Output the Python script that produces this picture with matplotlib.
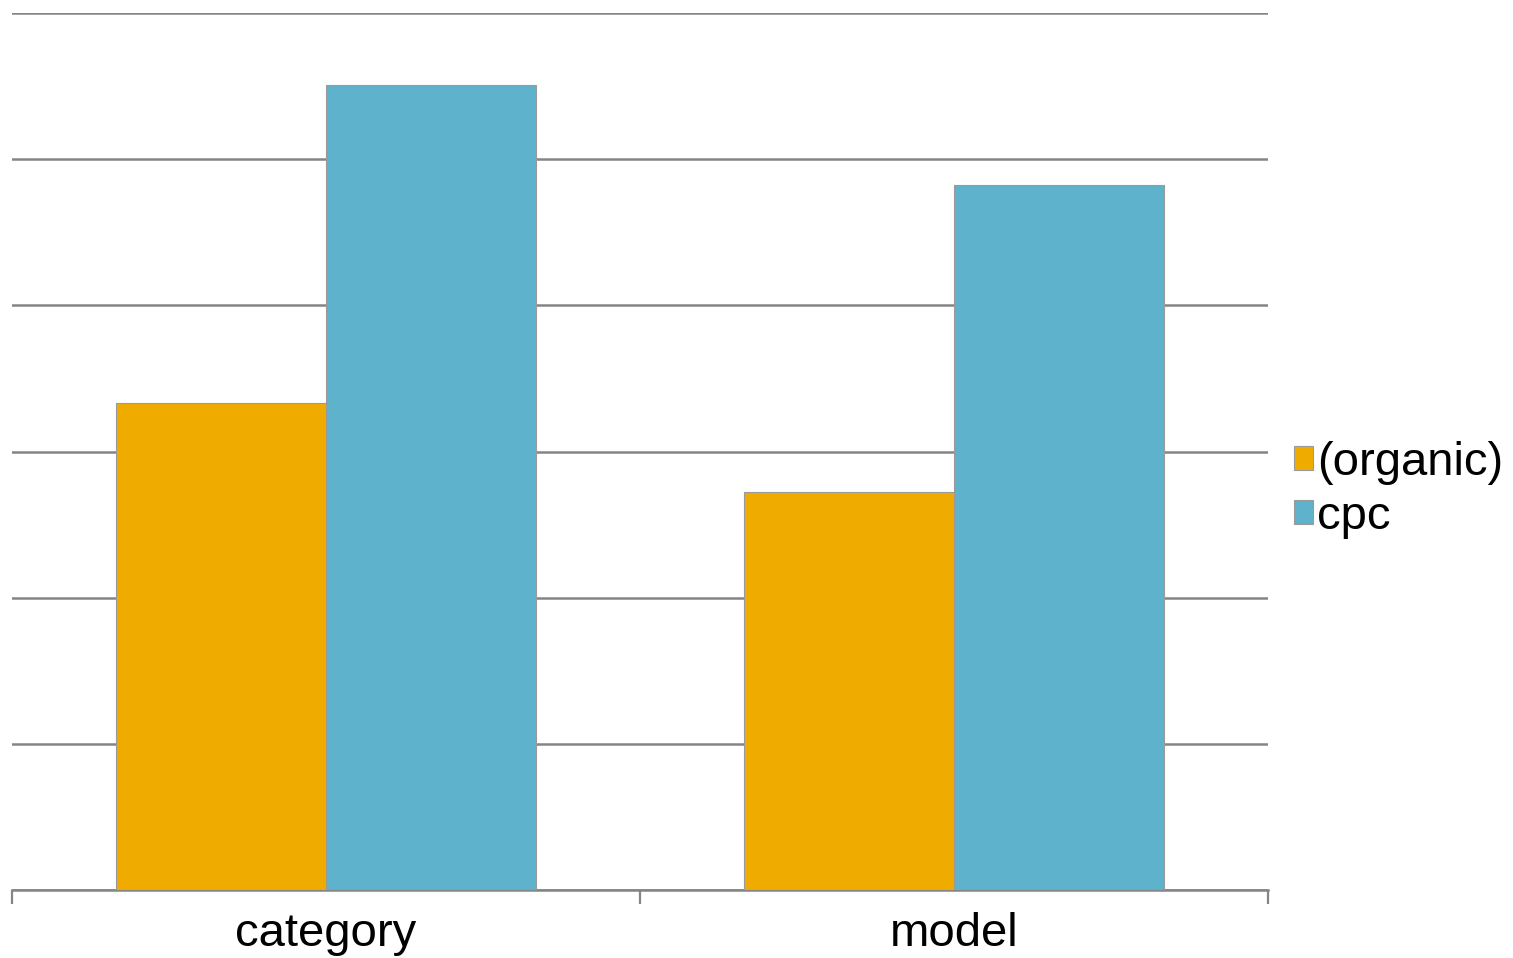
import matplotlib.pyplot as plt
import numpy as np

# Données
categories = ["category", "model"]
organic = [3.33, 2.72]
cpc = [5.51, 4.82]
series_names = ["(organic)", "cpc"]

plt.rcParams['font.family'] = ['Liberation Sans', 'DejaVu Sans']

fig = plt.figure(figsize=(15.13, 9.58), dpi=100)
ax = fig.add_axes([12/1513, 68/958, (1268-12)/1513, (890-13)/958])

x = np.arange(len(categories))
w = 0.334
ax.bar(x - w/2, organic, w, color='#F0AB00', edgecolor='#9a9a9a', linewidth=0.8,
       label=series_names[0], zorder=3)
ax.bar(x + w/2, cpc, w, color='#5FB2CB', edgecolor='#9a9a9a', linewidth=0.8,
       label=series_names[1], zorder=3)

ax.set_xlim(-0.5, 1.5)
ax.set_ylim(0, 6)
ax.set_yticks(np.arange(0, 7))
ax.yaxis.grid(True, color='#858585', linewidth=1.8, zorder=0)
ax.tick_params(axis='y', left=False, labelleft=False)

# Axe horizontal avec graduations aux limites de catégories
ax.set_xticks(x)
ax.set_xticklabels(categories, fontsize=34)
ax.set_xticks([-0.5, 0.5, 1.5], minor=True)
ax.tick_params(axis='x', which='major', length=0, pad=16)
ax.tick_params(axis='x', which='minor', length=10, width=1.6, color='#858585', direction='out')

for s in ['top', 'right', 'left']:
    ax.spines[s].set_visible(False)
ax.spines['bottom'].set_color('#858585')
ax.spines['bottom'].set_linewidth(1.8)

leg = fig.legend(loc='center left', bbox_to_anchor=(1294/1513, 1 - 490/958),
                 frameon=False, fontsize=34, handlelength=0.4, handleheight=0.4,
                 handletextpad=0.08, labelspacing=0.22, borderpad=0, borderaxespad=0)

fig.savefig('out.png', dpi=100)
